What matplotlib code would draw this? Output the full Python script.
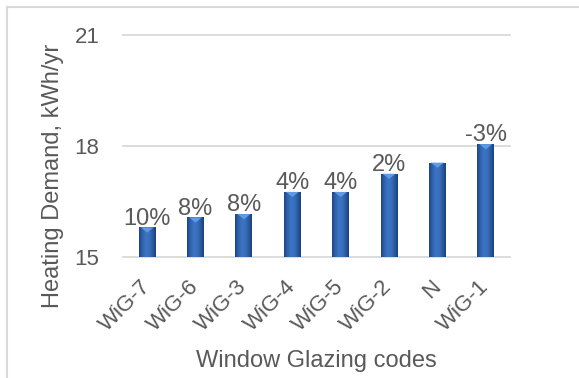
import matplotlib
matplotlib.use("Agg")
import matplotlib.pyplot as plt
import numpy as np
from matplotlib.colors import LinearSegmentedColormap
from matplotlib.patches import Rectangle, Polygon

plt.rcParams['font.family'] = ['Liberation Sans', 'DejaVu Sans']

categories = ["WiG-7", "WiG-6", "WiG-3", "WiG-4", "WiG-5", "WiG-2", "N", "WiG-1"]
values = [15.80, 16.07, 16.16, 16.76, 16.76, 17.25, 17.55, 18.05]
labels = ["10%", "8%", "8%", "4%", "4%", "2%", "", "-3%"]
yticks = [15, 18, 21]

TXT = "#595959"
GRID = "#d9d9d9"
W, H = 579, 378
fig = plt.figure(figsize=(W / 100, H / 100), dpi=100)
ax = fig.add_axes([123 / W, 1 - 257 / H, 387 / W, 222 / H])

ymin, ymax = yticks[0], yticks[-1]
x = np.arange(len(categories))
bw = 0.35
bars = ax.bar(x, np.array(values) - ymin, bw, bottom=ymin, color="none", edgecolor="none", zorder=3)

cmap = LinearSegmentedColormap.from_list("cyl", ["#1c4582", "#2f63ad", "#3c74c4", "#3a70bf", "#2b5ca3", "#1a4178"])
grad = np.linspace(0, 1, 64).reshape(1, -1)
bevel_depth = 0.14
for p, v in zip(bars.patches, values):
    x0 = p.get_x()
    w = p.get_width()
    im = ax.imshow(grad, extent=[x0, x0 + w, ymin, v], aspect="auto", cmap=cmap, zorder=3, interpolation="bicubic")
    im.set_clip_path(p)
    tri = Polygon([[x0 + w * 0.12, v], [x0 + w * 0.88, v], [x0 + w * 0.5, v - bevel_depth]],
                  closed=True, facecolor="#5e9be3", edgecolor="none", zorder=4)
    ax.add_patch(tri)

for xi, v, lab in zip(x, values, labels):
    if lab:
        ax.annotate(lab, (xi, v), xytext=(0, 2), textcoords="offset points",
                    ha="center", va="baseline", fontsize=17, color=TXT, zorder=5)

ax.set_xlim(-0.5, len(categories) - 0.5)
ax.set_ylim(ymin, ymax)
ax.set_yticks(yticks)
ax.set_yticklabels([str(t) for t in yticks])
ax.set_xticks(x)
ax.set_xticklabels(categories, rotation=45, ha="right", va="center", rotation_mode="anchor")
ax.tick_params(axis="y", length=0, pad=17, labelsize=16, labelcolor=TXT)
ax.tick_params(axis="x", length=0, pad=19, labelsize=16, labelcolor=TXT)
for s in ax.spines.values():
    s.set_visible(False)
ax.yaxis.grid(True, color=GRID, lw=1.3, zorder=0)
ax.set_axisbelow(True)
for l in ax.get_ygridlines():
    l.set_clip_on(False)

fig.text(53 / W, 1 - 176 / H, "Heating Demand, kWh/yr", rotation=90, ha="center", va="center",
         fontsize=17, color=TXT)
fig.text(316.5 / W, 1 - 361 / H, "Window Glazing codes", ha="center", va="center",
         fontsize=17, color=TXT)

fig.add_artist(Rectangle((6.5 / W, -0.1), 1.2, 1 - 6.5 / H + 0.1, transform=fig.transFigure,
                         fill=False, edgecolor=GRID, lw=1.5))

fig.savefig("out.png", dpi=100)
